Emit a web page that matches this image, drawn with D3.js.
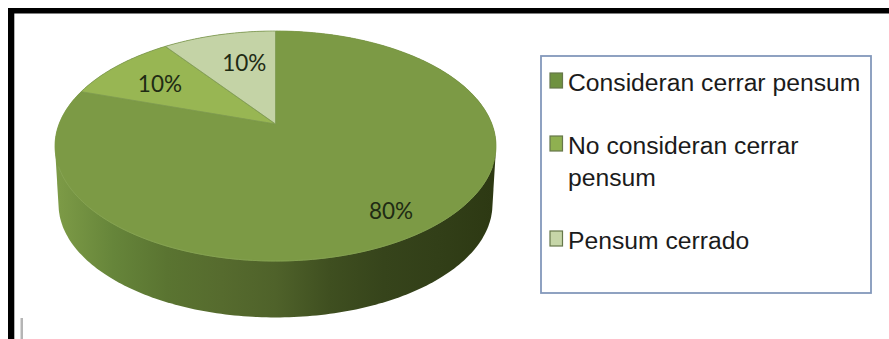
<!DOCTYPE html>
<html>
<head>
<meta charset="utf-8">
<script src="https://cdn.jsdelivr.net/npm/d3@7/dist/d3.min.js"></script>
<style>
  html, body { margin: 0; padding: 0; background: #fff; }
  svg { display: block; }
</style>
</head>
<body>
<svg id="chart" width="889" height="339"></svg>
<script>
// Survey answers about closing the study plan
const categories = ["Consideran cerrar pensum", "No consideran cerrar pensum", "Pensum cerrado"];
const shares = [80, 10, 10];
const valueLabels = ["80%", "10%", "10%"];
const sliceColors = ["#7c9a45", "#98b653", "#c4d3a6"];
const swatchColors = ["#6f9140", "#8fb050", "#c6d6a8"];
const legendLines = [["Consideran cerrar pensum"], ["No consideran cerrar", "pensum"], ["Pensum cerrado"]];
const sideStops = ["#7c9a46", "#66853a", "#5a7431", "#566b2e", "#4f622a", "#3f4f20", "#36441b", "#323f18", "#2d3913"];

const svg = d3.select("#chart");
const defs = svg.append("defs");

// Perspective view of the unit disc: the near side is drawn larger than the far side
const cx = 275.5, apexY = 124, horiz = 216.4, vert = 87.07, tilt = -0.1913;
function project(angle, rho) {
  const u = rho * Math.sin(angle), v = -rho * Math.cos(angle);
  const w = 1 + tilt * v;
  return [cx + horiz * u / w, (apexY + vert * v) / w];
}

const pieAngles = d3.pie().sort(null).value(d => d)(shares);

const rimAngles = d3.range(0, 2 * Math.PI, Math.PI / 180);
const topRim = rimAngles.map(a => project(a, 1));

// Lower rim of the disc, pushed down and slightly narrowed
const sink = 58.3, shrink = 0.984, topMidY = 146;
const lowerRim = topRim.map(([x, y]) => [
  cx + (x - cx) * shrink,
  topMidY + (y - topMidY) * shrink + sink
]);

const sideGrad = defs.append("linearGradient")
  .attr("id", "sideShade")
  .attr("gradientUnits", "userSpaceOnUse")
  .attr("x1", cx - horiz).attr("x2", cx + horiz).attr("y1", 0).attr("y2", 0);
sideGrad.selectAll("stop").data(sideStops).join("stop")
  .attr("offset", (d, i) => i / (sideStops.length - 1))
  .attr("stop-color", d => d);

const line = d3.line();

// Thickness of the disc
svg.append("path")
  .attr("d", line(d3.polygonHull(topRim.concat(lowerRim))) + "Z")
  .attr("fill", "url(#sideShade)");

// Top face, one wedge per answer
function wedgePoints(d) {
  const n = Math.max(2, Math.ceil((d.endAngle - d.startAngle) / (Math.PI / 180)));
  const arc = d3.range(n + 1).map(i => project(d.startAngle + (d.endAngle - d.startAngle) * i / n, 1));
  return [project(0, 0), ...arc];
}

svg.append("g").selectAll("path").data(pieAngles).join("path")
  .attr("d", d => line(wedgePoints(d)) + "Z")
  .attr("fill", (d, i) => sliceColors[i])
  .attr("stroke", (d, i) => i === 0 ? "#7c9a45" : "#7f9a52")
  .attr("stroke-width", 0.8)
  .attr("stroke-linejoin", "round");

// Thin light edge where the top face meets the side
svg.append("path")
  .attr("d", line(topRim.filter(p => p[1] > 165)))
  .attr("fill", "none")
  .attr("stroke", "#8aa658")
  .attr("stroke-width", 1)
  .attr("opacity", 0.7);

// Value labels sit inside their wedges
const labelReach = [0.82, 0.7, 0.62];
const labelShift = [[-4, 2], [-2, 2], [6, -3]];
svg.append("g").selectAll("text").data(pieAngles).join("text")
  .attr("transform", (d, i) => {
    const [x, y] = project((d.startAngle + d.endAngle) / 2, labelReach[i]);
    return `translate(${x + labelShift[i][0]},${y + labelShift[i][1]})`;
  })
  .attr("text-anchor", "middle")
  .attr("dominant-baseline", "central")
  .attr("font-family", "Lato, 'Open Sans', sans-serif")
  .attr("font-size", 22.5)
  .attr("fill", "#1f2b14")
  .text((d, i) => valueLabels[i]);

// Legend
const boxX = 541, swatchX = 550, labelX = 568;
const rowBaseline = [91, 154, 249];
const lineStep = 32;

svg.append("rect")
  .attr("x", boxX).attr("y", 56)
  .attr("width", 330).attr("height", 237)
  .attr("fill", "#fff")
  .attr("stroke", "#8398bb")
  .attr("stroke-width", 1.8);

const rows = svg.append("g").selectAll("g").data(categories).join("g");
rows.append("rect")
  .attr("x", swatchX)
  .attr("y", (d, i) => rowBaseline[i] - 18)
  .attr("width", 12.5).attr("height", 15)
  .attr("fill", (d, i) => swatchColors[i])
  .attr("stroke", "#66774a")
  .attr("stroke-width", 1.2);
rows.append("text")
  .attr("font-family", "'Liberation Sans', Arial, sans-serif")
  .attr("font-size", 24.7)
  .attr("fill", "#1b1b1b")
  .selectAll("tspan").data((d, i) => legendLines[i].map(t => ({ t, i }))).join("tspan")
  .attr("x", labelX)
  .attr("y", (d, j) => rowBaseline[d.i] + j * lineStep)
  .text(d => d.t);

// Heavy frame on the top and left edges, and the stray caret line below the disc
svg.append("rect").attr("x", 8).attr("y", 8).attr("width", 881).attr("height", 5.5).attr("fill", "#000");
svg.append("rect").attr("x", 8).attr("y", 8).attr("width", 6.3).attr("height", 331).attr("fill", "#000");
svg.append("rect").attr("x", 20.5).attr("y", 318).attr("width", 2.5).attr("height", 21).attr("fill", "#b5b5b5");
</script>
</body>
</html>
